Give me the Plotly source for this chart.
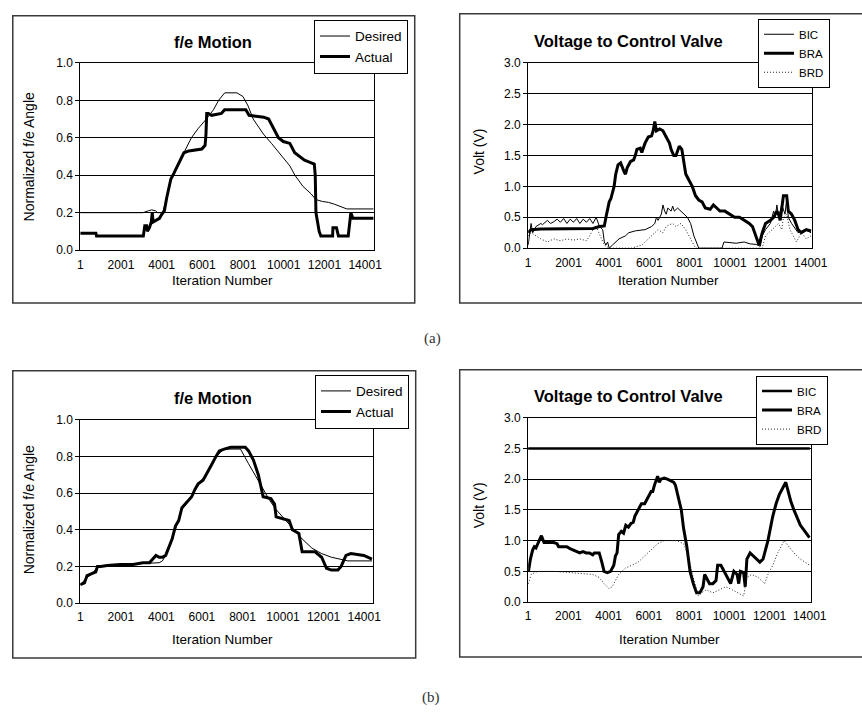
import plotly.graph_objects as go

# ---------------- data ----------------
tick_vals = [1, 2001, 4001, 6001, 8001, 10001, 12001, 14001]
tick_text = ["1", "2001", "4001", "6001", "8001", "10001", "12001", "14001"]

# (a) f/e Motion
a_des_x = [1, 3076, 3350, 3509, 3700, 3797, 4053, 4300, 4454, 4700, 4900, 5094, 5300, 5463,
           5800, 6200, 6550, 6800, 7100, 7700, 8000, 8250, 8500, 9000, 9400, 9900, 10300,
           10550, 10950, 11350, 11580, 11900, 12200, 12500, 12880, 13100, 14420]
a_des_y = [0.20, 0.20, 0.21, 0.215, 0.21, 0.20, 0.20, 0.30, 0.38, 0.44, 0.48, 0.52, 0.57, 0.60,
           0.65, 0.70, 0.75, 0.80, 0.84, 0.84, 0.82, 0.77, 0.70, 0.62, 0.57, 0.50, 0.45,
           0.40, 0.34, 0.30, 0.27, 0.26, 0.255, 0.245, 0.23, 0.22, 0.22]
a_act_x = [1, 769, 800, 3100, 3172, 3260, 3300, 3400, 3492, 3540, 3580, 3733, 3893, 4000, 4134,
           4250, 4454, 4600, 4694, 4854, 5094, 5335, 5975, 6136, 6180, 6216, 6296, 6456, 6937,
           7097, 8138, 8298, 9019, 9259, 9500, 9740, 9980, 10301, 10541, 10781, 11022, 11262,
           11502, 11550, 11584, 11663, 11743, 11825, 12402, 12420, 12594, 12690, 13171, 13300,
           13400, 14420]
a_act_y = [0.09, 0.09, 0.075, 0.075, 0.13, 0.13, 0.10, 0.12, 0.15, 0.20, 0.15, 0.16, 0.17, 0.19, 0.21,
           0.28, 0.38, 0.41, 0.43, 0.47, 0.52, 0.53, 0.54, 0.56, 0.62, 0.73, 0.73, 0.72, 0.73,
           0.75, 0.75, 0.72, 0.71, 0.70, 0.65, 0.60, 0.58, 0.57, 0.52, 0.50, 0.48, 0.47,
           0.46, 0.40, 0.20, 0.15, 0.10, 0.075, 0.075, 0.12, 0.12, 0.075, 0.075, 0.20,
           0.17, 0.17]

# (a) Voltage to Control Valve
a_bic_x = [1, 145, 226, 387, 629, 710, 952, 1113, 1274, 1436, 1597, 1758, 1920, 2081, 2242, 2404,
           2565, 2726, 2888, 3049, 3210, 3371, 3533, 3694, 3774, 3855, 3936, 4016, 4178, 4339,
           4500, 4823, 4985, 5307, 5791, 6114, 6275, 6355, 6436, 6597, 6678, 6759, 6839, 6920,
           7081, 7162, 7242, 7404, 7565, 7726, 7888, 8049, 8210, 8452, 9600, 9700, 10300, 10700,
           11000, 11300, 11500, 11600, 11760, 12000, 12162, 12243, 12323, 12404, 12565, 12726,
           12807, 12888, 13049, 13372, 13694, 14017]
a_bic_y = [0.05, 0.40, 0.25, 0.35, 0.40, 0.38, 0.45, 0.40, 0.43, 0.47, 0.42, 0.48, 0.40, 0.47, 0.42, 0.48,
           0.40, 0.47, 0.42, 0.48, 0.40, 0.50, 0.35, 0.30, 0.10, 0.05, 0.10, 0.00, 0.05, 0.10,
           0.15, 0.20, 0.25, 0.28, 0.30, 0.35, 0.40, 0.50, 0.45, 0.55, 0.70, 0.60, 0.55, 0.65,
           0.60, 0.68, 0.60, 0.65, 0.60, 0.55, 0.50, 0.40, 0.20, 0.00, 0.00, 0.10, 0.08, 0.10,
           0.07, 0.06, 0.03, 0.20, 0.30, 0.40, 0.60, 0.50, 0.70, 0.50, 0.70, 0.55,
           0.80, 0.50, 0.40, 0.25, 0.30, 0.25]
a_bra_x = [1, 145, 629, 3210, 3533, 3774, 3855, 4016, 4097, 4258, 4339, 4452, 4581, 4662, 4774, 4823,
           4904, 5065, 5226, 5307, 5388, 5549, 5630, 5791, 5952, 6114, 6194, 6275, 6355, 6517,
           6678, 6839, 7000, 7081, 7210, 7323, 7484, 7613, 7726, 7807, 7968, 8130, 8291, 8452,
           8614, 8775, 9017, 9178, 9339, 9501, 9743, 9985, 10227, 10469, 10711, 10953, 11114,
           11275, 11437, 11598, 11759, 12001, 12162, 12323, 12404, 12485, 12646, 12807, 12888,
           13049, 13210, 13372, 13533, 13775, 14017]
a_bra_y = [0.25, 0.30, 0.31, 0.32, 0.35, 0.36, 0.50, 0.75, 0.80, 1.00, 1.20, 1.35, 1.38, 1.30, 1.22, 1.20,
           1.30, 1.40, 1.43, 1.50, 1.60, 1.62, 1.55, 1.70, 1.80, 1.82, 1.90, 2.05, 1.90, 1.93,
           1.90, 1.80, 1.70, 1.60, 1.50, 1.50, 1.65, 1.60, 1.40, 1.20, 1.10, 1.00, 0.85, 0.78,
           0.75, 0.65, 0.63, 0.70, 0.65, 0.60, 0.60, 0.55, 0.50, 0.50, 0.45, 0.40, 0.35,
           0.20, 0.05, 0.25, 0.40, 0.45, 0.50, 0.60, 0.55, 0.45, 0.85, 0.85, 0.60,
           0.55, 0.45, 0.30, 0.25, 0.30, 0.28]
a_brd_x = [1, 145, 629, 952, 1274, 1597, 1920, 2242, 2565, 2888, 3049, 3210, 3371, 3613, 3774, 4016,
           5146, 5307, 5630, 5791, 5952, 6114, 6275, 6436, 6678, 6839, 7000, 7162, 7323, 7565,
           7807, 7968, 8130, 8291, 11598, 11759, 12081, 12243, 12404, 12565, 12646, 12807,
           12968, 13130, 13291, 13533, 13775, 14017]
a_brd_y = [0.20, 0.25, 0.15, 0.10, 0.15, 0.12, 0.15, 0.13, 0.15, 0.12, 0.20, 0.30, 0.35, 0.15, 0.05, 0.00,
           0.00, 0.02, 0.05, 0.10, 0.15, 0.20, 0.25, 0.30, 0.25, 0.35, 0.38, 0.40, 0.35, 0.40,
           0.30, 0.20, 0.10, 0.00, 0.00, 0.20, 0.30, 0.35, 0.40, 0.30, 0.50, 0.55,
           0.30, 0.20, 0.10, 0.25, 0.15, 0.20]

# (b) f/e Motion
b_des_x = [1, 336, 609, 849, 1970, 3092, 3412, 3893, 4053, 4213, 4534, 4854, 5014, 5495, 5815, 6216,
           6696, 7097, 7900, 8300, 8700, 9019, 9340, 9660, 9980, 10461, 10942, 11422, 11903,
           12383, 12864, 13200, 14386]
b_des_y = [0.10, 0.14, 0.16, 0.20, 0.21, 0.215, 0.22, 0.22, 0.23, 0.26, 0.35, 0.45, 0.51, 0.58, 0.65, 0.70,
           0.80, 0.84, 0.84, 0.76, 0.68, 0.62, 0.56, 0.51, 0.47, 0.41, 0.35, 0.30, 0.27,
           0.25, 0.24, 0.23, 0.23]
b_act_x = [1, 208, 336, 609, 769, 849, 1009, 1330, 1970, 2611, 3092, 3412, 3572, 3733, 3893, 4053,
           4213, 4373, 4534, 4694, 4854, 5014, 5255, 5495, 5655, 5815, 6056, 6216, 6456, 6696,
           6857, 7097, 7417, 8138, 8300, 8540, 8780, 8940, 9019, 9400, 9580, 9660, 9980, 10301,
           10461, 10781, 10942, 11582, 11903, 12143, 12383, 12704, 12864, 13104, 13345, 13665,
           13985, 14386]
b_act_y = [0.10, 0.11, 0.15, 0.16, 0.17, 0.20, 0.20, 0.205, 0.21, 0.21, 0.22, 0.22, 0.24, 0.26, 0.25, 0.25,
           0.26, 0.30, 0.35, 0.42, 0.45, 0.52, 0.55, 0.58, 0.62, 0.65, 0.67, 0.70, 0.75, 0.80,
           0.83, 0.84, 0.85, 0.85, 0.83, 0.78, 0.70, 0.62, 0.58, 0.57, 0.54, 0.47, 0.46, 0.45,
           0.40, 0.38, 0.28, 0.28, 0.25, 0.19, 0.18, 0.18, 0.20, 0.26, 0.27, 0.265,
           0.26, 0.24]

# (b) Voltage to Control Valve
b_bic_x = [1, 14001]
b_bic_y = [2.5, 2.5]
b_bra_x = [16, 113, 226, 306, 387, 468, 548, 661, 790, 952, 1274, 1436, 1516, 1758, 1920, 2081, 2242,
           2404, 2565, 2726, 2888, 3049, 3210, 3291, 3533, 3662, 3774, 3936, 4097, 4258, 4339,
           4420, 4500, 4629, 4742, 4855, 4985, 5113, 5226, 5307, 5468, 5630, 5791, 5952, 6113,
           6194, 6275, 6436, 6517, 6597, 6759, 6920, 7081, 7242, 7323, 7484, 7613, 7726, 7888,
           8049, 8210, 8371, 8533, 8694, 8775, 8856, 8936, 9017, 9178, 9339, 9420, 9581, 9662,
           9823, 9985, 10065, 10227, 10388, 10468, 10549, 10710, 10791, 10872, 11033, 11194,
           11356, 11517, 11678, 11759, 11920, 12162, 12323, 12485, 12565, 12727, 12807, 12888,
           13049, 13210, 13372, 13533, 13694, 13856, 13985]
b_bra_y = [0.50, 0.70, 0.85, 0.90, 0.88, 0.95, 1.00, 1.08, 0.97, 0.97, 0.97, 0.95, 0.90, 0.90, 0.90, 0.87, 0.85,
           0.82, 0.80, 0.82, 0.80, 0.80, 0.77, 0.80, 0.80, 0.65, 0.50, 0.48, 0.50, 0.60, 0.75,
           0.80, 1.10, 1.15, 1.12, 1.25, 1.22, 1.28, 1.30, 1.40, 1.50, 1.60, 1.60, 1.70, 1.80,
           1.80, 1.90, 2.05, 1.95, 2.00, 2.02, 2.00, 1.97, 1.95, 1.90, 1.70, 1.50, 1.20, 0.90,
           0.50, 0.30, 0.15, 0.15, 0.25, 0.45, 0.40, 0.35, 0.30, 0.30, 0.35, 0.60, 0.60, 0.55,
           0.45, 0.35, 0.30, 0.50, 0.45, 0.30, 0.50, 0.48, 0.25, 0.70, 0.80, 0.75,
           0.70, 0.65, 0.70, 0.80, 1.00, 1.40, 1.60, 1.75, 1.80, 1.92, 1.95, 1.85,
           1.65, 1.50, 1.38, 1.25, 1.18, 1.10, 1.05]
b_brd_x = [16, 145, 468, 1274, 2081, 2888, 3210, 3533, 3774, 4016, 4178, 4339, 4500, 4823, 5146, 5468,
           5791, 6113, 6436, 6759, 7081, 7404, 7726, 7968, 8130, 8291, 8452, 8614, 8856, 9178,
           9501, 9823, 10146, 10469, 10711, 10872, 11114, 11437, 11759, 11920, 12162, 12404,
           12727, 12968, 13210, 13533, 13775, 13985]
b_brd_y = [0.30, 0.45, 0.50, 0.50, 0.48, 0.45, 0.45, 0.40, 0.30, 0.22, 0.25, 0.35, 0.45, 0.55, 0.60, 0.65,
           0.75, 0.85, 0.95, 1.00, 1.00, 1.00, 0.95, 0.75, 0.50, 0.30, 0.10, 0.15, 0.20, 0.15,
           0.20, 0.25, 0.20, 0.15, 0.10, 0.40, 0.45, 0.40, 0.30, 0.45, 0.60, 0.80,
           1.00, 0.90, 0.80, 0.70, 0.65, 0.60]

# ---------------- figure ----------------
W, H = 862, 713
FONT = "Liberation Sans, Arial, sans-serif"


def px(x):
    return x / W


def py(y):
    return 1 - y / H


fig = go.Figure()

thin = dict(color="black", width=1)
thick = dict(color="black", width=3)
dotted = dict(color="#222222", width=1, dash="1px,2px")

# (a) left
fig.add_trace(go.Scatter(x=a_des_x, y=a_des_y, mode="lines", line=thin, name="Desired",
                         xaxis="x", yaxis="y", legend="legend"))
fig.add_trace(go.Scatter(x=a_act_x, y=a_act_y, mode="lines", line=thick, name="Actual",
                         xaxis="x", yaxis="y", legend="legend"))
# (a) right
fig.add_trace(go.Scatter(x=a_bic_x, y=a_bic_y, mode="lines", line=thin, name="BIC",
                         xaxis="x2", yaxis="y2", legend="legend2"))
fig.add_trace(go.Scatter(x=a_bra_x, y=a_bra_y, mode="lines", line=thick, name="BRA",
                         xaxis="x2", yaxis="y2", legend="legend2"))
fig.add_trace(go.Scatter(x=a_brd_x, y=a_brd_y, mode="lines", line=dotted, name="BRD",
                         xaxis="x2", yaxis="y2", legend="legend2"))
# (b) left
fig.add_trace(go.Scatter(x=b_des_x, y=b_des_y, mode="lines", line=thin, name="Desired",
                         xaxis="x3", yaxis="y3", legend="legend3"))
fig.add_trace(go.Scatter(x=b_act_x, y=b_act_y, mode="lines", line=thick, name="Actual",
                         xaxis="x3", yaxis="y3", legend="legend3"))
# (b) right
fig.add_trace(go.Scatter(x=b_bic_x, y=b_bic_y, mode="lines", line=dict(color="black", width=2.5),
                         name="BIC", xaxis="x4", yaxis="y4", legend="legend4"))
fig.add_trace(go.Scatter(x=b_bra_x, y=b_bra_y, mode="lines", line=thick, name="BRA",
                         xaxis="x4", yaxis="y4", legend="legend4"))
fig.add_trace(go.Scatter(x=b_brd_x, y=b_brd_y, mode="lines", line=dotted, name="BRD",
                         xaxis="x4", yaxis="y4", legend="legend4"))

tickfont = dict(family=FONT, size=12, color="black")


def xax(x0, x1, rmax, anchor):
    return dict(domain=[px(x0), px(x1)], anchor=anchor, range=[1, rmax],
                tickvals=tick_vals, ticktext=tick_text, tickfont=tickfont,
                showgrid=False, zeroline=False, showline=True, linecolor="black",
                linewidth=1, mirror=True, ticks="", ticklabelstandoff=3)


def yax(y0, y1, rmax, dt, anchor):
    return dict(domain=[py(y1), py(y0)], anchor=anchor, range=[0, rmax], dtick=dt,
                tickformat=".1f", tickfont=tickfont, showgrid=True, gridcolor="black",
                gridwidth=1, zeroline=False, showline=True, linecolor="black", linewidth=1,
                mirror=True, ticks="outside", ticklen=4, tickcolor="black")


def legend_common(size):
    return dict(bgcolor="white", bordercolor="black", borderwidth=1,
                font=dict(family=FONT, size=size, color="black"),
                xanchor="left", yanchor="top", tracegroupgap=0, itemwidth=30)


fig.update_layout(
    width=W, height=H, margin=dict(l=0, r=0, t=0, b=0),
    paper_bgcolor="white", plot_bgcolor="white",
    xaxis=xax(79, 379, 14420, "y"),
    yaxis=yax(57, 248, 1.0, 0.2, "x"),
    xaxis2=xax(537, 827, 14050, "y2"),
    yaxis2=yax(57, 246, 3.0, 0.5, "x2"),
    xaxis3=xax(79, 378, 14420, "y3"),
    yaxis3=yax(421, 608, 1.0, 0.2, "x3"),
    xaxis4=xax(537, 826, 14050, "y4"),
    yaxis4=yax(419, 607, 3.0, 0.5, "x4"),
    legend=dict(x=px(318), y=py(13), **legend_common(13.5)),
    legend2=dict(x=px(772), y=py(12), **legend_common(11.5)),
    legend3=dict(x=px(319), y=py(375), **legend_common(13.5)),
    legend4=dict(x=px(770), y=py(376), **legend_common(11.5)),
    showlegend=True,
)

frame = dict(color="#3a3a3a", width=1.5)
shapes = [
    dict(type="rect", xref="paper", yref="paper", x0=px(10), x1=px(421), y0=py(302), y1=py(9), line=frame),
    dict(type="rect", xref="paper", yref="paper", x0=px(467), x1=1.02, y0=py(302), y1=py(7), line=frame),
    dict(type="rect", xref="paper", yref="paper", x0=px(10), x1=px(422), y0=py(664), y1=py(371), line=frame),
    dict(type="rect", xref="paper", yref="paper", x0=px(467), x1=1.02, y0=py(663), y1=py(370), line=frame),
]
fig.update_layout(shapes=shapes)


def ann(text, x, y, size, bold=False, angle=0, family=FONT, color="black"):
    return dict(text=("<b>%s</b>" % text) if bold else text, x=px(x), y=py(y), xref="paper",
                yref="paper", showarrow=False, xanchor="center", yanchor="middle",
                textangle=angle, font=dict(family=family, size=size, color=color))


annotations = [
    ann("f/e Motion", 215, 36, 16.5, bold=True),
    ann("Voltage to Control Valve", 640, 35, 16.5, bold=True),
    ann("f/e Motion", 215, 399, 16.5, bold=True),
    ann("Voltage to Control Valve", 640, 397, 16.5, bold=True),
    ann("Iteration Number", 224, 279, 13.5),
    ann("Iteration Number", 681, 279, 13.5),
    ann("Iteration Number", 224, 645, 13.5),
    ann("Iteration Number", 682, 645, 13.5),
    ann("Normalized f/e Angle", 27, 153, 14, angle=-90),
    ann("Volt (V)", 487, 147, 14, angle=-90),
    ann("Normalized f/e Angle", 27, 513, 14, angle=-90),
    ann("Volt (V)", 487, 508, 14, angle=-90),
    ann("(a)", 439, 338, 15, family="Liberation Serif, Times New Roman, serif", color="#333333"),
    ann("(b)", 438, 704, 15, family="Liberation Serif, Times New Roman, serif", color="#333333"),
]
fig.update_layout(annotations=annotations)

fig.write_html("out.html")
